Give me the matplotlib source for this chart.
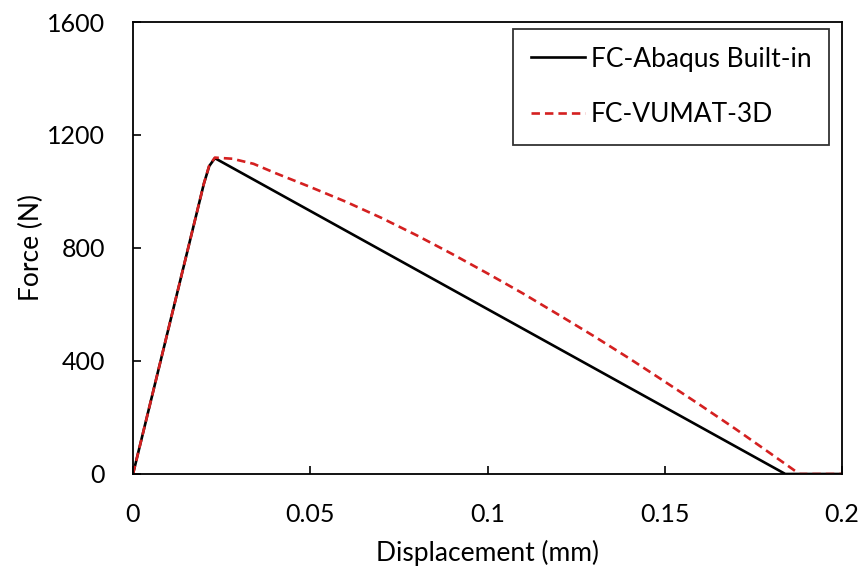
import matplotlib.pyplot as plt

# Force-displacement response: built-in cohesive law vs. user subroutine
disp_builtin = [0.0, 0.0200, 0.0215, 0.0231, 0.184, 0.2]
force_builtin = [0.0, 1028, 1090, 1118, 0.0, 0.0]

disp_vumat = [0.0, 0.0200, 0.0215, 0.0231, 0.028, 0.034, 0.040, 0.050, 0.060,
              0.070, 0.080, 0.090, 0.100, 0.110, 0.120, 0.130, 0.140, 0.150,
              0.160, 0.170, 0.180, 0.188, 0.2]
force_vumat = [0.0, 1028, 1092, 1120, 1116, 1098, 1066, 1016, 964,
               907, 845, 779, 710, 639, 564, 488, 409, 327,
               244, 159, 71, 0.0, 0.0]

plt.rcParams['font.family'] = ['Lato', 'DejaVu Sans']
plt.rcParams['font.size'] = 18

fig = plt.figure(figsize=(8.67, 5.73), dpi=100)
ax = fig.add_axes([0.1534, 0.1728, 0.8178, 0.7888])

ax.plot(disp_builtin, force_builtin, color='black', lw=1.9,
        label='FC-Abaqus Built-in')
ax.plot(disp_vumat, force_vumat, color='#d42020', lw=1.9,
        dashes=(3.2, 1.9), label='FC-VUMAT-3D')

ax.set_xlim(0, 0.2)
ax.set_ylim(0, 1600)
ax.set_xticks([0, 0.05, 0.1, 0.15, 0.2])
ax.set_xticklabels(['0', '0.05', '0.1', '0.15', '0.2'])
ax.set_yticks([0, 400, 800, 1200, 1600])
ax.tick_params(direction='in', length=6, width=1.2)
ax.tick_params(axis='x', pad=21)
ax.tick_params(axis='y', pad=20)
for s in ax.spines.values():
    s.set_linewidth(1.3)

ax.set_xlabel('Displacement (mm)', fontsize=19, labelpad=10)
ax.set_ylabel('Force (N)', fontsize=19, labelpad=2)

leg = ax.legend(loc='upper right', bbox_to_anchor=(0.982, 0.985),
                frameon=True, fancybox=False, edgecolor='black',
                fontsize=19, handlelength=2.05, handletextpad=0.2,
                labelspacing=1.15, borderpad=0.68, borderaxespad=0.0)
leg.get_frame().set_linewidth(1.3)

fig.savefig('out.png', dpi=100)
